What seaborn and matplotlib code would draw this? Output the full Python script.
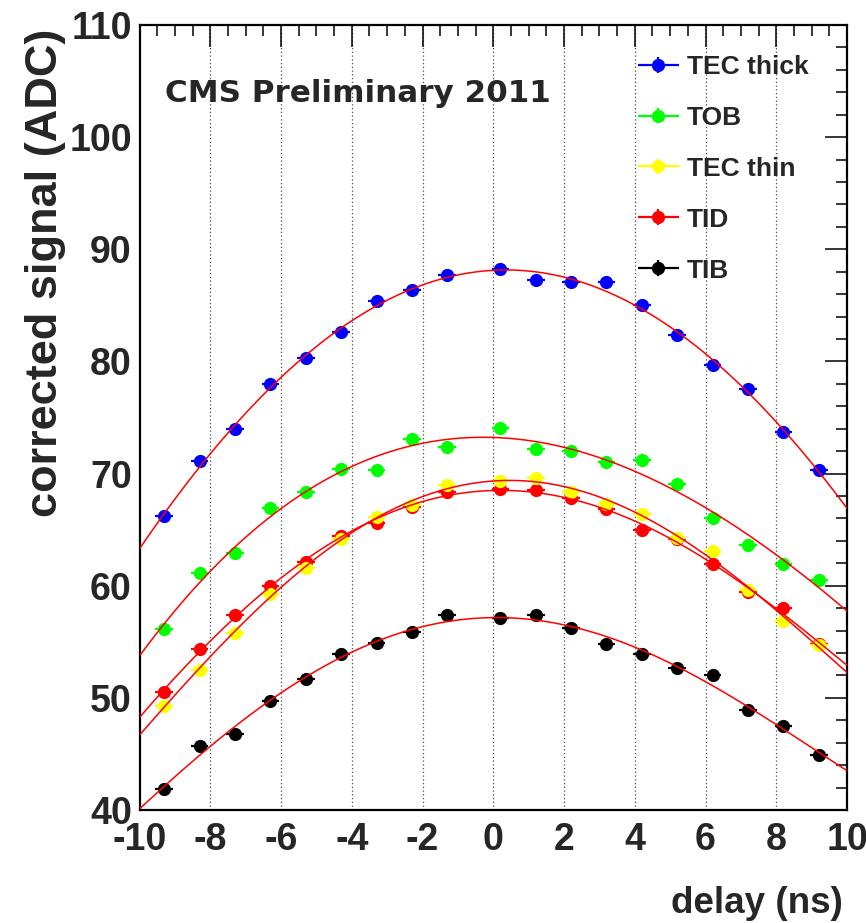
import matplotlib
matplotlib.use("Agg")
import matplotlib.pyplot as plt
import numpy as np
import pandas as pd
import seaborn as sns
from matplotlib.ticker import MultipleLocator, FixedLocator
from matplotlib.font_manager import FontProperties
from matplotlib.legend_handler import HandlerErrorbar
from matplotlib.container import ErrorbarContainer

# Delay scan of the strip tracker readout: signal per sub-detector
delay = [-9.3, -8.3, -7.3, -6.3, -5.3, -4.3, -3.3, -2.3, -1.3,
         0.2, 1.2, 2.2, 3.2, 4.2, 5.2, 6.2, 7.2, 8.2, 9.2]

tec_thick = [66.2, 71.1, 74.0, 78.0, 80.3, 82.6, 85.4, 86.4, 87.7,
             88.2, 87.3, 87.1, 87.1, 85.0, 82.4, 79.7, 77.5, 73.7, 70.3]
tob = [56.1, 61.1, 62.9, 66.9, 68.4, 70.4, 70.3, 73.1, 72.4,
       74.1, 72.2, 72.0, 71.0, 71.2, 69.1, 66.0, 63.6, 61.9, 60.5]
tec_thin = [49.3, 52.5, 55.8, 59.3, 61.6, 64.2, 66.1, 67.2, 69.0,
            69.3, 69.6, 68.4, 67.3, 66.4, 64.3, 63.1, 59.6, 56.9, 54.7]
tid = [50.5, 54.4, 57.4, 60.0, 62.1, 64.4, 65.6, 67.0, 68.4,
       68.6, 68.5, 67.8, 66.8, 65.0, 64.2, 61.9, 59.4, 58.0, 54.8]
tib = [41.9, 45.7, 46.8, 49.7, 51.7, 53.9, 54.9, 55.9, 57.4,
       57.1, 57.4, 56.2, 54.8, 53.9, 52.7, 52.0, 48.9, 47.5, 44.9]

layers = ["TEC thick", "TOB", "TEC thin", "TID", "TIB"]
layer_signal = [tec_thick, tob, tec_thin, tid, tib]
layer_colors = ["#0000ff", "#00ff00", "#ffff00", "#ff0000", "#000000"]

delay_err = 0.25
signal_err = 0.4

x_ticks = [-10, -8, -6, -4, -2, 0, 2, 4, 6, 8, 10]
y_ticks = [40, 50, 60, 70, 80, 90, 100, 110]

df = pd.DataFrame({
    "delay": np.tile(delay, len(layers)),
    "signal": np.concatenate(layer_signal),
    "layer": np.repeat(layers, len(delay)),
})

sns.set_style("white")
plt.rcParams["font.family"] = ["Liberation Sans", "DejaVu Sans"]
plt.rcParams["font.weight"] = "bold"

fig = plt.figure(figsize=(8.66, 9.23), dpi=100)
ax = fig.add_axes([0.1611, 0.1224, 0.8170, 0.8505])
ax.set_xlim(-10, 10)
ax.set_ylim(40, 110)

# dotted vertical grid
for gx in x_ticks[1:-1]:
    ax.axvline(gx, color="0.3", lw=0.9, ls=(0, (1, 2)), zorder=0)

handles = {}
for name, color in reversed(list(zip(layers, layer_colors))):
    sub = df[df["layer"] == name]
    cont = ax.errorbar(sub["delay"], sub["signal"], xerr=delay_err,
                       yerr=signal_err, fmt="o", color=color, ms=8.5,
                       elinewidth=1.6, capsize=0, zorder=3)
    handles[name] = cont
    sns.regplot(data=sub, x="delay", y="signal", order=4, scatter=False,
                ci=None, truncate=False, ax=ax,
                line_kws=dict(color="red", lw=1.1, zorder=4))

ax.set_xlim(-10, 10)
ax.set_ylim(40, 110)

ax.xaxis.set_major_locator(FixedLocator(x_ticks))
ax.yaxis.set_major_locator(FixedLocator(y_ticks))
ax.xaxis.set_minor_locator(MultipleLocator(0.5))
ax.yaxis.set_minor_locator(MultipleLocator(2))
ax.set_xticklabels([str(t) for t in x_ticks])
ax.set_yticklabels([str(t) for t in y_ticks])

tick_fp = FontProperties(family="Liberation Sans", weight="bold", size=27)
for lab in ax.get_xticklabels() + ax.get_yticklabels():
    lab.set_fontproperties(tick_fp)

ax.tick_params(which="both", direction="in", top=True, right=True,
               color="black", width=1.1)
ax.tick_params(which="major", length=16)
ax.tick_params(which="minor", length=8)
ax.tick_params(axis="x", which="major", pad=8.5)
ax.tick_params(axis="y", which="major", pad=5.5)

for sp in ax.spines.values():
    sp.set_linewidth(1.6)
    sp.set_color("black")

ax.set_xlabel("delay (ns)", fontsize=26.5, fontweight="bold", loc="right")
ax.xaxis.set_label_coords(0.994, -0.097)
ax.xaxis.label.set_va("top")
ax.set_ylabel("corrected signal (ADC)", fontsize=32.5, fontweight="bold", loc="top")
ax.yaxis.set_label_coords(-0.104, 0.996)

ax.text(0.036, 0.902, "CMS Preliminary 2011", transform=ax.transAxes,
        fontsize=22.3, fontweight="bold", family="DejaVu Sans",
        va="baseline", ha="left")

leg = ax.legend([handles[n] for n in layers], layers, loc="upper left",
                bbox_to_anchor=(0.7046, 0.962), frameon=False,
                prop=dict(family="Liberation Sans", weight="bold", size=19),
                handlelength=1.55, handletextpad=0.3, labelspacing=1.02,
                borderpad=0, borderaxespad=0,
                handler_map={ErrorbarContainer: HandlerErrorbar(xerr_size=0.78,
                                                                yerr_size=0.3)})

fig.savefig("out.png", dpi=100)
